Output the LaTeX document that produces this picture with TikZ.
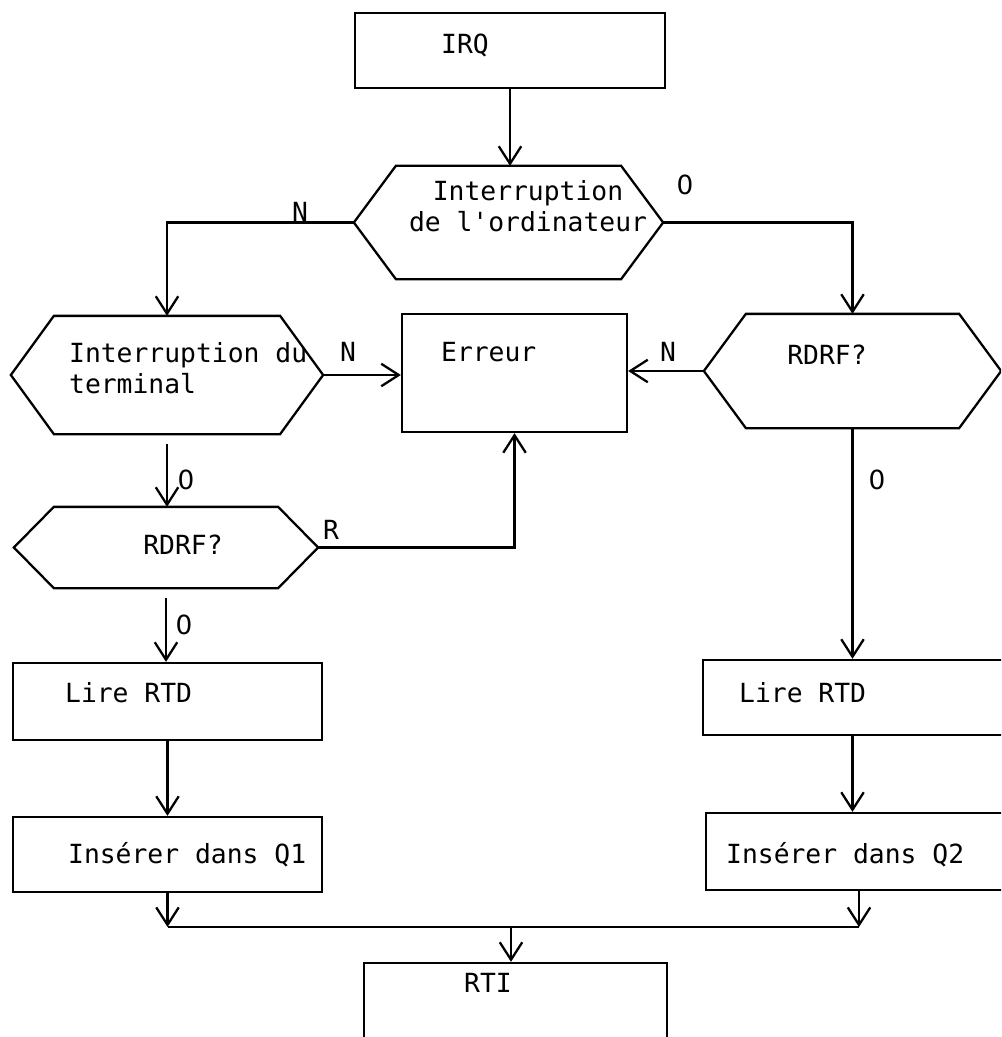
\documentclass[tikz,border=0pt]{standalone}
\usepackage{fontspec}
\setmonofont{DejaVu Sans Mono}
\newfontfamily\zerofont{DejaVu Sans}
\usetikzlibrary{arrows.meta}

\begin{document}
\begin{tikzpicture}[x=0.02cm, y=-0.02cm, line width=1.3pt,
		font=\ttfamily\fontsize{15}{18}\selectfont,
		box/.style={draw, rectangle, inner sep=0pt},
		hexa/.style={rectangle, inner sep=0pt},
		txt/.style={inner sep=0pt, align=left},
		flow/.style={-{Straight Barb[length=0.35cm,width=0.45cm]}}]
		
		\useasboundingbox (0,0) rectangle (1001,1037);
		\clip (0,0) rectangle (1001,1037);
		
		% boxes
		\node[box, minimum width=310*0.02cm, minimum height=75*0.02cm] (irq) at (510,50.5) {};
		\node[box, minimum width=225*0.02cm, minimum height=118*0.02cm] (err) at (514.5,373) {};
		\node[box, minimum width=309*0.02cm, minimum height=77*0.02cm] (lire1) at (167.5,701.5) {};
		\node[box, minimum width=309*0.02cm, minimum height=75*0.02cm] (ins1) at (167.5,854.5) {};
		\node[box, minimum width=310*0.02cm, minimum height=75*0.02cm] (lire2) at (858,697.5) {};
		\node[box, minimum width=306*0.02cm, minimum height=77*0.02cm] (ins2) at (859,851.5) {};
		\node[box, minimum width=303*0.02cm, minimum height=94*0.02cm] (rti) at (515.5,1010) {};
		
		% hexagons (tests)
		\node[hexa, minimum width=307*0.02cm, minimum height=111*0.02cm] (h1) at (508.5,222.5) {};
		\node[hexa, minimum width=310*0.02cm, minimum height=116*0.02cm] (h2) at (167,375) {};
		\node[hexa, minimum width=295*0.02cm, minimum height=112*0.02cm] (h3) at (852.5,371) {};
		\node[hexa, minimum width=302*0.02cm, minimum height=79*0.02cm] (h4) at (166,547.5) {};
		\foreach \h/\d in {h1/42, h2/43, h3/42, h4/40}{
			\draw (\h.west) -- ([xshift=\d*0.02cm]\h.north west) -- ([xshift=-\d*0.02cm]\h.north east)
				-- (\h.east) -- ([xshift=-\d*0.02cm]\h.south east) -- ([xshift=\d*0.02cm]\h.south west) -- cycle;
		}
		
		% texts
		\node[txt, anchor=west] (irqtxt) at (440,45) {IRQ};
		\node[txt, align=center] (h1txt) at (528,206) {Interruption\\de l\textquotesingle ordinateur};
		\node[txt, anchor=west] (h2txt) at (68,368) {Interruption du\\terminal};
		\node[txt, anchor=west] (errtxt) at (440,352) {Erreur};
		\node[txt] (h3txt) at (827,355) {RDRF?};
		\node[txt] (h4txt) at (183,545) {RDRF?};
		\node[txt, anchor=west] (lire1txt) at (64,693) {Lire RTD};
		\node[txt, anchor=west] (ins1txt) at (67,855) {Insérer dans Q1};
		\node[txt, anchor=west] (lire2txt) at (738,693) {Lire RTD};
		\node[txt, anchor=west] (ins2txt) at (725,855) {Insérer dans Q2};
		\node[txt] (rtitxt) at (488,983) {RTI};
		
		% connectors
		\draw[flow] (irq.south) -- (irq.south |- h1.north);
		\draw[flow] (h1.west) -| (h2.north);
		\draw[flow] (h1.east) -| (h3.north);
		\draw[flow] (h2.east) -- (h2.east -| err.west);
		\draw[flow] (h3.west) -- (h3.west -| err.east);
		\draw[flow, shorten <=10*0.02cm] (h2.south) -- (h2.south |- h4.north);
		\draw[flow] (h4.east) -| (err.south);
		\draw[flow, shorten <=10*0.02cm] (h4.south) -- (h4.south |- lire1.north);
		\draw[flow] (lire1.south) -- (lire1.south |- ins1.north);
		\draw[flow] (h3.south) -- (h3.south |- lire2.north);
		\draw[flow] (h3.south |- lire2.south) -- (h3.south |- ins2.north);
		
		% junction to RTI
		\coordinate (jn) at (511,927);
		\draw[flow] (ins1.south) -- (ins1.south |- jn);
		\draw[flow] (ins2.south) -- (ins2.south |- jn);
		\draw (ins1.south |- jn) -- (ins2.south |- jn);
		\draw[flow] (jn) -- (jn |- rti.north);
		
		% branch labels
		\node (lbN1) at (300,212) {N};
		\node (lb01) at (685,185) {\zerofont 0};
		\node (lbN2) at (348,352) {N};
		\node (lbN3) at (668,352) {N};
		\node (lb02) at (186,480) {\zerofont 0};
		\node (lbR) at (331,530) {R};
		\node (lb03) at (184,625) {\zerofont 0};
		\node (lb04) at (877,480) {\zerofont 0};
		
	\end{tikzpicture}
\end{document}
